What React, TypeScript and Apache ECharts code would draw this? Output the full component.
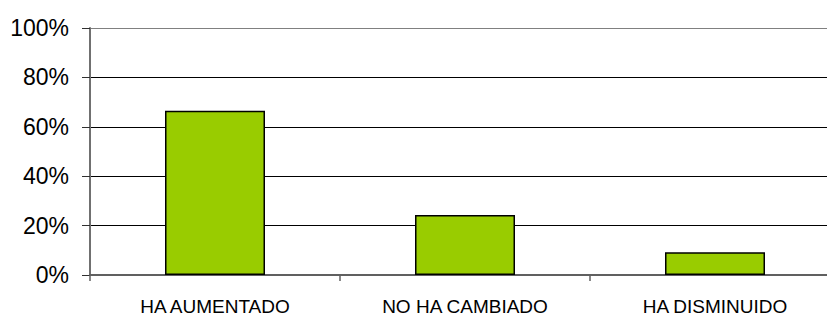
import React, { useEffect, useRef } from "react";
import * as echarts from "echarts";

const categories = ["HA AUMENTADO", "NO HA CAMBIADO", "HA DISMINUIDO"];
const values = [66.5, 24.3, 9.2];
const yTicks = [0, 20, 40, 60, 80, 100];

export default function App() {
  const ref = useRef<HTMLDivElement>(null);
  useEffect(() => {
    if (!ref.current) return;
    const chart = echarts.init(ref.current, undefined, { renderer: "svg" });
    chart.setOption({
      animation: false,
      backgroundColor: "#ffffff",
      grid: { left: 90, top: 28, width: 750, height: 248, containLabel: false },
      xAxis: {
        type: "category",
        data: categories,
        axisLine: { show: true, lineStyle: { color: "#606060", width: 2 } },
        axisTick: { show: true, length: 6, alignWithLabel: false, lineStyle: { color: "#606060", width: 1.5 } },
        axisLabel: {
          color: "#000",
          fontFamily: "Liberation Sans, Arial, sans-serif",
          fontSize: 19,
          margin: 22,
        },
      },
      yAxis: {
        type: "value",
        min: 0,
        max: 100,
        interval: 20,
        axisLine: { show: true, lineStyle: { color: "#707070", width: 2 } },
        axisTick: { show: true, length: 8, lineStyle: { color: "#303030", width: 1 } },
        axisLabel: {
          color: "#000",
          fontFamily: "Liberation Sans, Arial, sans-serif",
          fontSize: 23,
          margin: 21,
          formatter: (v: number) => (yTicks.includes(v) ? v + "%" : ""),
        },
        splitLine: {
          show: true,
          lineStyle: {
            color: ["#000000", "#000000", "#000000", "#000000", "#000000", "#808080"],
            width: 1,
          },
        },
      },
      series: [
        {
          type: "bar",
          data: values,
          barWidth: "40%",
          itemStyle: { color: "#99CC00", borderColor: "#000000", borderWidth: 1.5 },
        },
      ],
    });
    return () => chart.dispose();
  }, []);
  return (
    <div style={{ position: "absolute", left: 0, top: 0, width: 827, height: 316, overflow: "hidden", background: "#fff" }}>
      <div ref={ref} style={{ width: 850, height: 316 }} />
    </div>
  );
}
